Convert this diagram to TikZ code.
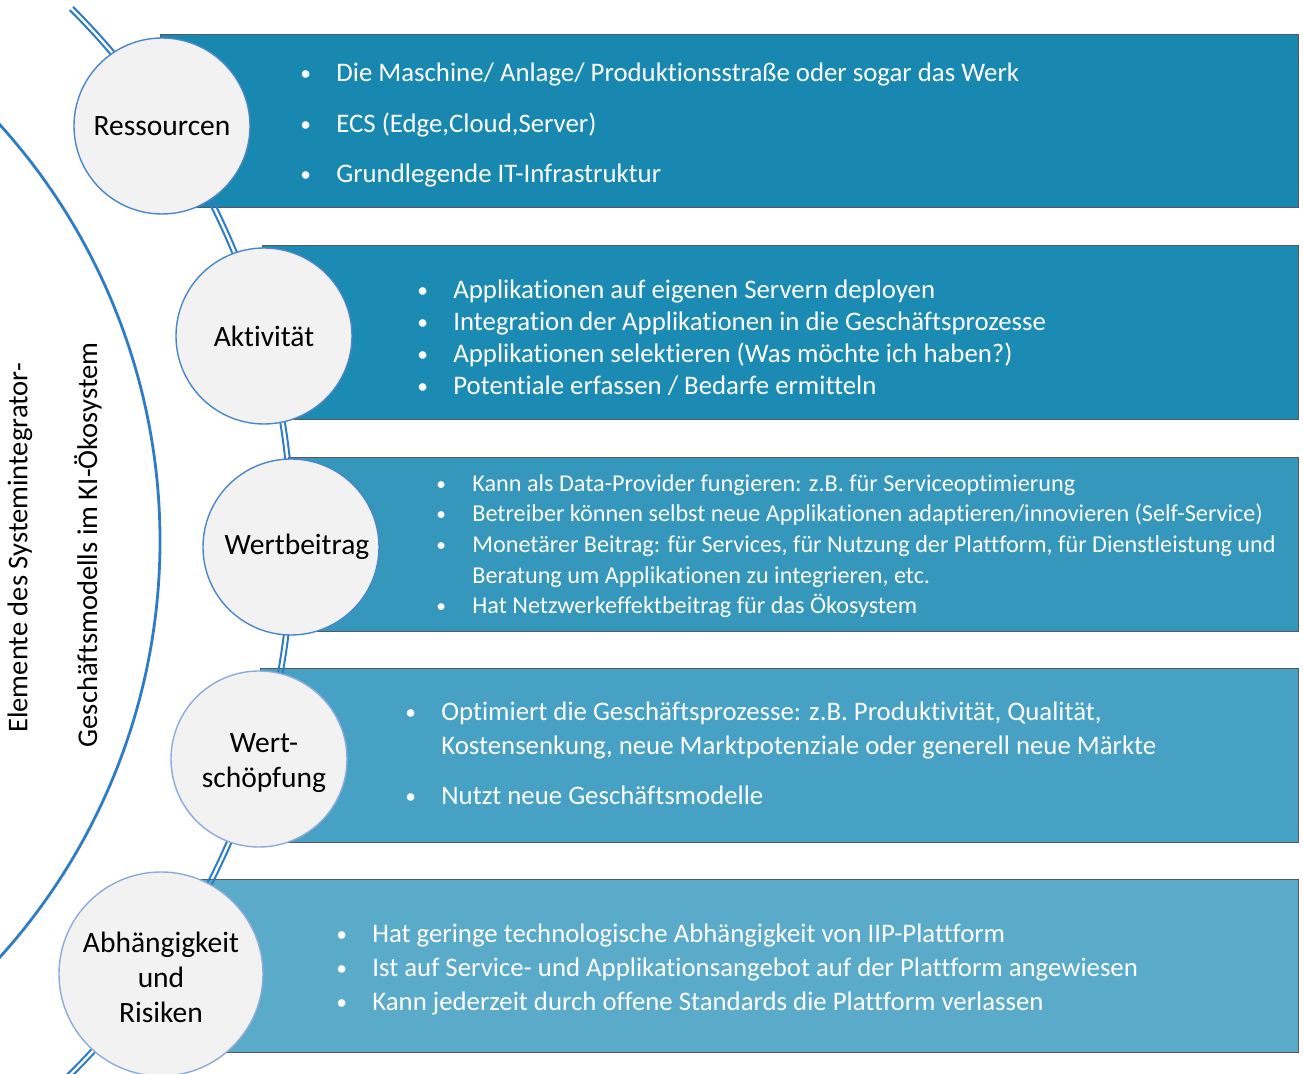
\documentclass[tikz,border=0pt]{standalone}
\usepackage{fontspec}
\setmainfont{Carlito}[Ligatures=NoCommon]
\usepackage{xcolor}
\usepackage{tikz}
\usetikzlibrary{positioning}

\definecolor{balkenA}{RGB}{24,136,176}
\definecolor{balkenB}{RGB}{27,139,179}
\definecolor{balkenC}{RGB}{52,151,187}
\definecolor{balkenD}{RGB}{70,161,196}
\definecolor{balkenE}{RGB}{90,170,201}
\definecolor{rahmen}{RGB}{85,90,95}
\definecolor{kreisgrau}{RGB}{242,242,242}
\definecolor{kreisrand}{RGB}{74,134,200}
\definecolor{kreisrandhell}{RGB}{140,170,218}
\definecolor{bogenblau}{RGB}{46,125,196}

\begin{document}
\begin{tikzpicture}[x=0.5pt, y=-0.5pt,
  kreis/.style={circle, fill=kreisgrau, draw=kreisrand, line width=0.7pt,
    minimum size=88pt, inner sep=0pt, align=center,
    font=\fontsize{14.75}{17.5}\selectfont},
  balken/.style={draw=rahmen, line width=0.5pt},
  zeile/.style={anchor=base west, inner sep=0pt, text=white,
    font=\fontsize{13.4}{16}\selectfont},
  kleinzeile/.style={zeile, font=\fontsize{12.1}{14}\selectfont},
  bogen/.style={draw=bogenblau, line width=1pt}]

  \useasboundingbox (0,0) rectangle (1303,1074);
  \clip (0,0) rectangle (1303,1074);

  \coordinate (M) at (-461,541);
  \def\rinnen{375.35pt}
  \def\raussen{377.65pt}
  \def\rgross{310.5pt}
  \def\pkt{\makebox[18pt][l]{\raisebox{0.5pt}{\scalebox{0.8}{\textbullet}}}}
  \def\leer{\makebox[18pt][l]{}}

  % balken
  \filldraw[balken, fill=balkenA] (160,35) rectangle (1298,208);
  \filldraw[balken, fill=balkenB] (262,246) rectangle (1298,420);
  \filldraw[balken, fill=balkenC] (288,458) rectangle (1298,632);
  \filldraw[balken, fill=balkenD] (260,669) rectangle (1298,843);
  \filldraw[balken, fill=balkenE] (200,880) rectangle (1298,1053);

  % bogen, doppelt
  \draw[bogen] (M) ++(45:\rinnen) arc[start angle=45, end angle=-46, radius=\rinnen];
  \draw[bogen] (M) ++(45:\raussen) arc[start angle=45, end angle=-46, radius=\raussen];

  % bogen, aussen
  \draw[bogen, line width=1.4pt] (M) ++(50:\rgross) arc[start angle=50, end angle=-50, radius=\rgross];

  % kreise
  \node[kreis] (ressourcen) at (162,126) {Ressourcen};
  \node[kreis] (aktivitaet) at (264,336) {Aktivität};
  \node[kreis] (wertbeitrag) at (291,547) {\hspace*{6pt}Wertbeitrag};
  \node[kreis, draw=kreisrandhell] (wertschoepfung) at (259,759) {\\[-4pt]\hspace*{5pt}Wert-\\\hspace*{5pt}schöpfung};
  \node[kreis, draw=kreisrandhell, minimum size=102pt] (risiken) at (161,974) {\\[-4pt]Abhängigkeit\\und\\Risiken};

  % Ressourcen
  \node[zeile] (r1) at (300,82) {\pkt Die Maschine/ Anlage/ Produktionsstraße oder sogar das Werk};
  \node[zeile] (r2) at (300,133) {\pkt ECS (Edge,Cloud,Server)};
  \node[zeile] (r3) at (300,183) {\pkt Grundlegende IT-Infrastruktur};

  % Aktivitaet
  \node[zeile] (a1) at (417,299) {\pkt Applikationen auf eigenen Servern deployen};
  \node[zeile] (a2) at (417,331) {\pkt Integration der Applikationen in die Geschäftsprozesse};
  \node[zeile] (a3) at (417,363) {\pkt Applikationen selektieren (Was möchte ich haben?)};
  \node[zeile] (a4) at (417,395) {\pkt Potentiale erfassen / Bedarfe ermitteln};

  % Wertbeitrag
  \node[kleinzeile] (w1) at (436,492) {\pkt Kann als Data-Provider fungieren: z.B. für Serviceoptimierung};
  \node[kleinzeile] (w2) at (436,522) {\pkt Betreiber können selbst neue Applikationen adaptieren/innovieren (Self-Service)};
  \node[kleinzeile] (w3) at (436,553) {\pkt Monetärer Beitrag: für Services, für Nutzung der Plattform, für Dienstleistung und};
  \node[kleinzeile] (w4) at (436,584) {\leer Beratung um Applikationen zu integrieren, etc.};
  \node[kleinzeile] (w5) at (436,614) {\pkt Hat Netzwerkeffektbeitrag für das Ökosystem};

  % Wertschoepfung
  \node[zeile] (s1) at (405,721) {\pkt Optimiert die Geschäftsprozesse: z.B. Produktivität, Qualität,};
  \node[zeile] (s2) at (405,755) {\leer Kostensenkung, neue Marktpotenziale oder generell neue Märkte};
  \node[zeile] (s3) at (405,805) {\pkt Nutzt neue Geschäftsmodelle};

  % Abhaengigkeit und Risiken
  \node[zeile] (k1) at (336,943) {\pkt Hat geringe technologische Abhängigkeit von IIP-Plattform};
  \node[zeile] (k2) at (336,977) {\pkt Ist auf Service- und Applikationsangebot auf der Plattform angewiesen};
  \node[zeile] (k3) at (336,1011) {\pkt Kann jederzeit durch offene Standards die Plattform verlassen};

  % beschriftung links
  \node[rotate=90, font=\fontsize{14.3}{17}\selectfont] (titel1) at (20,548) {Elemente des Systemintegrator-};
  \node[rotate=90, font=\fontsize{14.3}{17}\selectfont] (titel2) at (88,545) {Geschäftsmodells im KI-Ökosystem};

\end{tikzpicture}
\end{document}
